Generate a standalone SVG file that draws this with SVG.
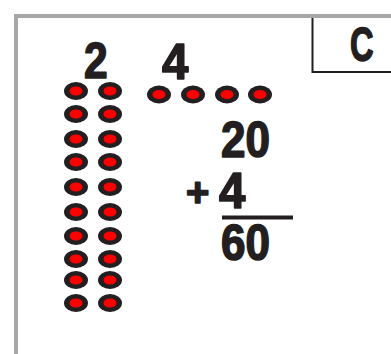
<svg xmlns="http://www.w3.org/2000/svg" xmlns:xlink="http://www.w3.org/1999/xlink" width="391" height="354" viewBox="0 0 391 354">
<style>
.num{font-family:"Liberation Sans",Arial,sans-serif;font-weight:bold;fill:#231f20;stroke:#231f20;stroke-width:1.6;stroke-linejoin:round}
.ln{stroke:#231f20;fill:none}
</style>
<defs>
<g id="dot"><ellipse rx="12" ry="9" fill="#231f20"/><ellipse rx="6.5" ry="4.5" fill="#ff0000"/></g>
</defs>
<rect width="391" height="354" fill="#ffffff"/>
<g id="frame"><rect x="16" y="16" width="400" height="400" fill="#ffffff" stroke="#a7a7a9" stroke-width="4"/></g>
<g id="label-box">
<path class="ln" stroke-width="2" d="M312.5 18V72H391"/>
<text class="num" font-size="48" transform="translate(350,61) scale(0.68,1)">C</text>
</g>
<g id="tens">
<text class="num" font-size="50" transform="translate(84,77.5) scale(0.85,1)">2</text>
<use xlink:href="#dot" x="76" y="91"/><use xlink:href="#dot" x="110" y="91"/>
<use xlink:href="#dot" x="76" y="114"/><use xlink:href="#dot" x="110" y="114"/>
<use xlink:href="#dot" x="76" y="139"/><use xlink:href="#dot" x="110" y="139"/>
<use xlink:href="#dot" x="76" y="162"/><use xlink:href="#dot" x="110" y="162"/>
<use xlink:href="#dot" x="76" y="187"/><use xlink:href="#dot" x="110" y="187"/>
<use xlink:href="#dot" x="76" y="212"/><use xlink:href="#dot" x="110" y="212"/>
<use xlink:href="#dot" x="76" y="236"/><use xlink:href="#dot" x="110" y="236"/>
<use xlink:href="#dot" x="76" y="259"/><use xlink:href="#dot" x="110" y="259"/>
<use xlink:href="#dot" x="76" y="280"/><use xlink:href="#dot" x="110" y="280"/>
<use xlink:href="#dot" x="76" y="303"/><use xlink:href="#dot" x="110" y="303"/>
</g>
<g id="ones">
<text class="num" font-size="50" transform="translate(162,78.5) scale(0.95,1)">4</text>
<use xlink:href="#dot" x="159" y="94.5"/><use xlink:href="#dot" x="193" y="94.5"/>
<use xlink:href="#dot" x="227" y="94.5"/><use xlink:href="#dot" x="260" y="94.5"/>
</g>
<g id="sum">
<text class="num" font-size="50" transform="translate(221,156.5) scale(0.88,1)">20</text>
<text class="num" font-size="40" transform="translate(186,206)">+</text>
<text class="num" font-size="50" transform="translate(219,207.5) scale(0.95,1)">4</text>
<line class="ln" stroke-width="4" x1="222" y1="217.5" x2="293" y2="217.5"/>
<text class="num" font-size="50" transform="translate(221,259.5) scale(0.88,1)">60</text>
</g>
</svg>
